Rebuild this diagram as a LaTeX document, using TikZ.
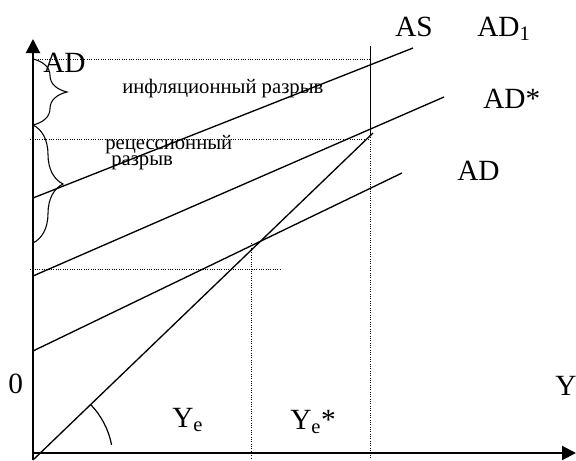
\documentclass[tikz,border=0pt]{standalone}
\usepackage{fontspec}
\setmainfont{Liberation Serif}
\usetikzlibrary{arrows.meta,decorations.pathreplacing,calc}
\tikzset{
  axis/.style={line width=1.5pt,-{Triangle[length=10.5pt,width=10.5pt]}},
  curve/.style={line width=1pt},
  guide/.style={line width=0.75pt,densely dotted},
  gapbrace/.style={line width=0.8pt,decorate,decoration={brace,amplitude=#1}},
  biglbl/.style={font=\fontsize{22}{24}\selectfont,inner sep=0pt,anchor=base west},
  smalllbl/.style={font=\fontsize{15.5}{17}\selectfont,inner sep=0pt,anchor=base west}
}

\begin{document}
\begin{tikzpicture}[x=0.75pt,y=-0.75pt]
                    \useasboundingbox (0,0) rectangle (576,461);
                    % axes
                    \coordinate (O) at (33,460);
                    \coordinate (ytop) at (33,39);
                    \coordinate (xstart) at (33,453);
                    \coordinate (xend) at (576,453);
                    \draw[axis] (O) -- (ytop);
                    \draw[axis] (xstart) -- (xend);
                    % AS and the three AD lines
                    \coordinate (asend) at (373,133);
                    \coordinate (ad1a) at (33,198);
                    \coordinate (ad1b) at (413,48);
                    \coordinate (adsa) at (33,276);
                    \coordinate (adsb) at (444,97);
                    \coordinate (ada) at (33,351);
                    \coordinate (adb) at (402,173);
                    \draw[curve] (O) -- (asend);
                    \draw[curve] (ad1a) -- (ad1b);
                    \draw[curve] (adsa) -- (adsb);
                    \draw[curve] (ada) -- (adb);
                    % guide lines
                    \coordinate (g1a) at (33,59);
                    \coordinate (g1b) at (370,59);
                    \coordinate (g2a) at (30,139);
                    \coordinate (g2b) at (370,139);
                    \coordinate (g3a) at (30,269);
                    \coordinate (g3b) at (280,269);
                    \coordinate (yea) at (251,243);
                    \coordinate (yeb) at (251,458);
                    \coordinate (ysa) at (370,46);
                    \coordinate (ysm) at (370,135);
                    \coordinate (ysb) at (370,458);
                    \draw[guide] (g1a) -- (g1b);
                    \draw[guide] (g2a) -- (g2b);
                    \draw[guide] (g3a) -- (g3b);
                    \draw[guide] (yea) -- (yeb);
                    \draw[line width=0.75pt] (ysa) -- (ysm);
                    \draw[guide] (ysm) -- (ysb);
                    % gaps
                    \coordinate (b1) at (33,125);
                    \coordinate (b2) at (33,243);
                    \draw[gapbrace=25.5pt] (g1a) -- (b1);
                    \draw[gapbrace=22.5pt] (b1) -- (b2);
                    % angle of AS
                    \coordinate (arcstart) at (90.6,404.5);
                    \draw[line width=0.9pt] (arcstart) arc[start angle=44, end angle=11, radius=60pt];
                    % labels
                    \node[biglbl] (adtop) at (43,72) {AD};
                    \node[smalllbl] (infl) at (122,93) {инфляционный разрыв};
                    \node[smalllbl] (rec1) at (105,149) {рецессионный};
                    \node[smalllbl] (rec2) at (111,165) {разрыв};
                    \node[biglbl] (aslbl) at (395,36) {AS};
                    \node[biglbl] (ad1lbl) at (477,36) {AD\textsubscript{1}};
                    \node[biglbl] (adslbl) at (483,108) {AD*};
                    \node[biglbl] (adlbl) at (457,180) {AD};
                    \node[biglbl] (zero) at (8,393) {0};
                    \node[biglbl] (yelbl) at (172,427) {Y\textsubscript{e}};
                    \node[biglbl] (yeslbl) at (290,429) {Y\textsubscript{e}*};
                    \node[biglbl] (ylbl) at (555,395) {Y};
\end{tikzpicture}
\end{document}
